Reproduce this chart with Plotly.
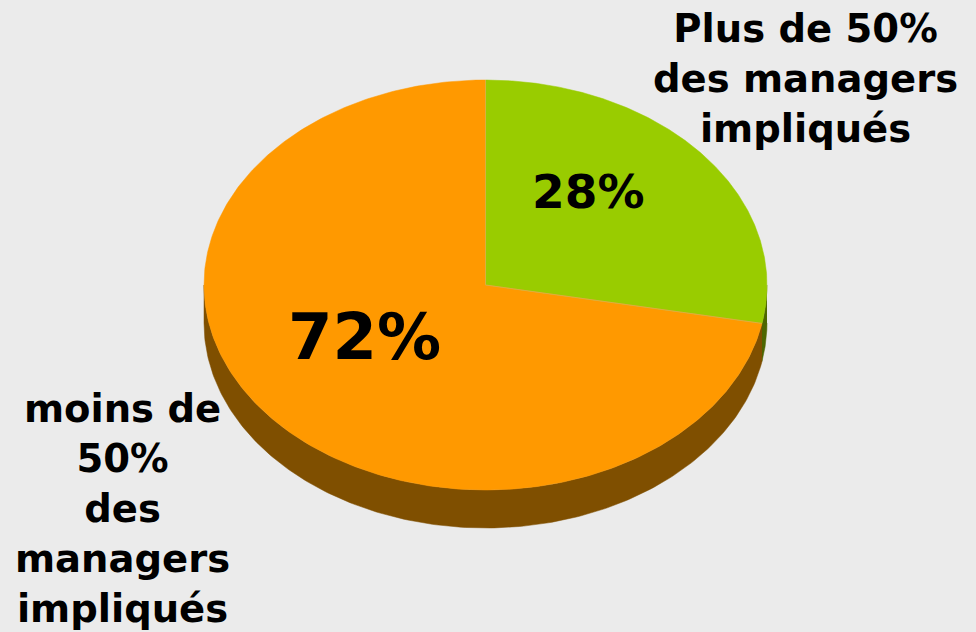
import numpy as np
import plotly.graph_objects as go

# ---- data ----
categories = ["Plus de 50%<br>des managers<br>impliqués", "moins de<br>50%<br>des<br>managers<br>impliqués"]
values = [28, 72]
pct_labels = ["28%", "72%"]

top_colors = ["#99cc00", "#ff9900"]
side_colors = ["#4d6600", "#7f4f00"]
bg = "#ebebeb"

# ---- geometry (layout) ----
cx, cy, rx, ry, depth = 485.5, 285, 281.5, 205, 38

def pt(t_deg):
    t = np.radians(t_deg)
    return cx + rx * np.sin(t), cy - ry * np.cos(t)

total = sum(values)
bounds = np.cumsum([0] + values) / total * 360.0

fig = go.Figure()

# sides (front half: angles 90..270)
for i in range(len(values)):
    a, b = bounds[i], bounds[i + 1]
    lo, hi = max(a, 90), min(b, 270)
    if hi <= lo:
        continue
    ts = np.linspace(lo, hi, 200)
    xs, ys = pt(ts)
    px = np.concatenate([xs, xs[::-1]])
    py = np.concatenate([ys, (ys + depth)[::-1]])
    fig.add_trace(go.Scatter(x=px, y=py, fill="toself", mode="lines",
                             line=dict(width=0.5, color=side_colors[i]),
                             fillcolor=side_colors[i], hoverinfo="skip", showlegend=False))

# tops
for i in range(len(values)):
    a, b = bounds[i], bounds[i + 1]
    ts = np.linspace(a, b, 400)
    xs, ys = pt(ts)
    px = np.concatenate([[cx], xs, [cx]])
    py = np.concatenate([[cy], ys, [cy]])
    fig.add_trace(go.Scatter(x=px, y=py, fill="toself", mode="lines",
                             line=dict(width=0.5, color=top_colors[i]),
                             fillcolor=top_colors[i], hoverinfo="skip", showlegend=False))

# boundary lines
for ang in bounds[:-1]:
    ex, ey = pt(ang)
    fig.add_trace(go.Scatter(x=[cx, ex], y=[cy, ey], mode="lines",
                             line=dict(width=1, color="#d9b040"),
                             hoverinfo="skip", showlegend=False))

font = "DejaVu Sans"
# percentage labels
fig.add_annotation(x=588, y=191, text=pct_labels[0], showarrow=False,
                   font=dict(family=font, size=47, color="black", weight="bold"))
fig.add_annotation(x=364, y=337, text=pct_labels[1], showarrow=False,
                   font=dict(family=font, size=64, color="black", weight="bold"))
# category labels
fig.add_annotation(x=805, y=78, text=categories[0], showarrow=False, align="center",
                   font=dict(family=font, size=38.5, color="black", weight="bold"))
fig.add_annotation(x=122, y=508, text=categories[1], showarrow=False, align="center",
                   font=dict(family=font, size=38.5, color="black", weight="bold"))

fig.update_layout(
    width=976, height=632,
    margin=dict(l=0, r=0, t=0, b=0),
    paper_bgcolor=bg, plot_bgcolor=bg,
    xaxis=dict(range=[0, 976], visible=False, fixedrange=True),
    yaxis=dict(range=[632, 0], visible=False, fixedrange=True),
    showlegend=False,
)

fig.write_html("out.html", config={"displayModeBar": False, "staticPlot": True},
               post_script="document.body.style.margin='0';document.body.style.overflow='hidden';")
